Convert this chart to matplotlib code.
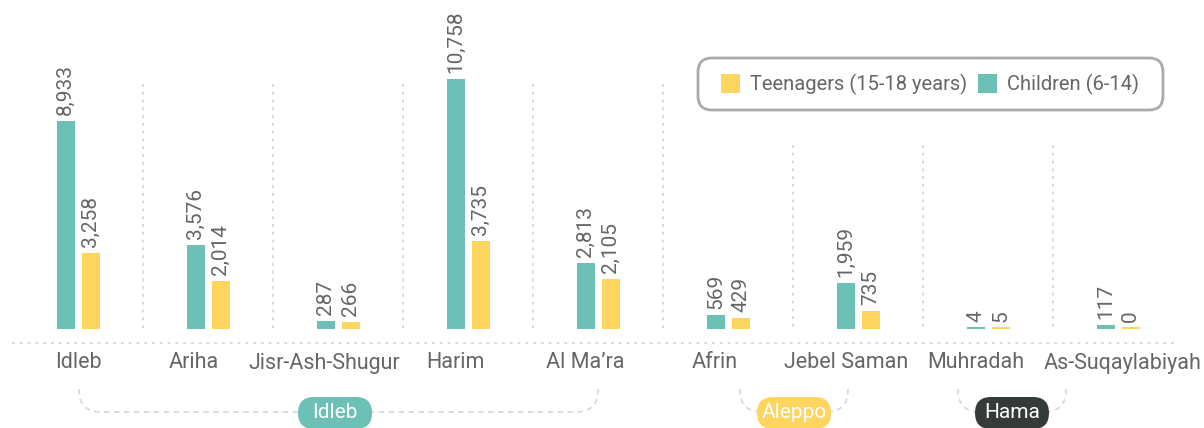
import numpy as np
import matplotlib.pyplot as plt
from matplotlib.patches import FancyBboxPatch, Rectangle
from matplotlib.path import Path
from matplotlib.patches import PathPatch

plt.rcParams['font.family'] = ['Roboto', 'DejaVu Sans']

districts = ['Idleb', 'Ariha', 'Jisr-Ash-Shugur', 'Harim', 'Al Ma\u2019ra',
             'Afrin', 'Jebel Saman', 'Muhradah', 'As-Suqaylabiyah']
children = [8933, 3576, 287, 10758, 2813, 569, 1959, 4, 117]
teenagers = [3258, 2014, 266, 3735, 2105, 429, 735, 5, 0]
governorates = ['Idleb', 'Aleppo', 'Hama']

TEAL = '#6cc1b6'
YELLOW = '#fed55f'
DARK = '#353b38'
GREY = '#666666'

W, H = 1204, 428
fig = plt.figure(figsize=(W / 100, H / 100), dpi=100)

# layout in pixels
x0, step = 78, 130          # centre of first group, group spacing
base = 328                  # baseline (px from top)
scale = 0.02317             # px per unit
ax = fig.add_axes([0, 0, 1, 1])
ax.set_xlim(-x0 / step, (W - x0) / step)
ax.set_ylim(-(H - base) / scale, base / scale)
ax.axis('off')

x = np.arange(len(districts))
bw = 18 / step
off = 12.5 / step
ax.bar(x - off, children, bw, color=TEAL, zorder=3)
ax.bar(x + off, teenagers, bw, color=YELLOW, zorder=3)
# thin base line so bars with ~0 values still show
ax.bar(x - off, 2 / scale, bw, bottom=-1 / scale, color=TEAL, zorder=2)
ax.bar(x + off, 2 / scale, bw, bottom=-1 / scale, color=YELLOW, zorder=2)

pad = 6 / scale
for xi, v in zip(x, children):
    ax.text(xi - off, v + pad, f'{v:,}', rotation=90, ha='center', va='bottom',
            fontsize=15, color=GREY)
for xi, v in zip(x, teenagers):
    ax.text(xi + off, v + pad, f'{v:,}', rotation=90, ha='center', va='bottom',
            fontsize=15, color=GREY)

# overlay in pixel coordinates for decorations
ov = fig.add_axes([0, 0, 1, 1], zorder=-1)
ov.set_xlim(0, W)
ov.set_ylim(H, 0)
ov.axis('off')
ov.patch.set_alpha(0)

dot = dict(color='#d9d9d9', lw=1.4, linestyle=(0, (1.5, 2.5)))
for i in range(len(districts) - 1):
    sx = x0 + step * i + step / 2
    top = 84 if i < 5 else 145
    ov.plot([sx, sx], [top, base + 2], **dot)
ov.plot([12, 1174], [343, 343], **dot)

lab = fig.add_axes([0, 0, 1, 1], zorder=2)
lab.set_xlim(0, W)
lab.set_ylim(H, 0)
lab.axis('off')
lab.patch.set_alpha(0)

label_x = [78, 194, 324, 455, 585, 715, 846, 976, 1123]
for lx, name in zip(label_x, districts):
    lab.text(lx, 363, name, ha='center', va='center', fontsize=15.5, color=GREY)

# governorate brackets
def bracket(xl, xr, y0, y1, r, pill_l, pill_r):
    codes = [Path.MOVETO, Path.LINETO, Path.CURVE3, Path.CURVE3, Path.LINETO]
    for xe, sgn, pe in [(xl, 1, pill_l), (xr, -1, pill_r)]:
        verts = [(xe, y0), (xe, y1 - r), (xe, y1), (xe + sgn * r, y1), (pe, y1)]
        lab.add_patch(PathPatch(Path(verts, codes), fill=False, ec='#d9d9d9', lw=1.3,
                                linestyle=(0, (3, 2.5))))

def pill(cx, cy, w, h, text, fc):
    lab.add_patch(FancyBboxPatch((cx - w / 2, cy - h / 2), w, h,
                                 boxstyle=f'round,pad=0,rounding_size={h / 2}',
                                 fc=fc, ec='none'))
    lab.text(cx, cy, text, ha='center', va='center', fontsize=15, color='white')

groups = [(79, 598, 22, 335, 74, TEAL), (740, 848, 22, 794, 74, YELLOW),
          (958, 1066, 22, 1012, 74, DARK)]
for (xl, xr, r, cx, w, fc), g in zip(groups, governorates):
    bracket(xl, xr, 389, 412, r, cx - w / 2, cx + w / 2)
    pill(cx, 413, w, 32, g, fc)

# legend
lab.add_patch(FancyBboxPatch((698, 58), 465, 52, boxstyle='round,pad=0,rounding_size=14',
                             fc='white', ec='#aaaaaa', lw=2))
lab.add_patch(Rectangle((721, 74), 19, 19, fc=YELLOW, ec='none'))
lab.text(750, 84, 'Teenagers (15-18 years)', ha='left', va='center', fontsize=14.5, color=GREY)
lab.add_patch(Rectangle((978, 74), 19, 19, fc=TEAL, ec='none'))
lab.text(1007, 84, 'Children (6-14)', ha='left', va='center', fontsize=14.5, color=GREY)

fig.savefig('out.png', dpi=100)
